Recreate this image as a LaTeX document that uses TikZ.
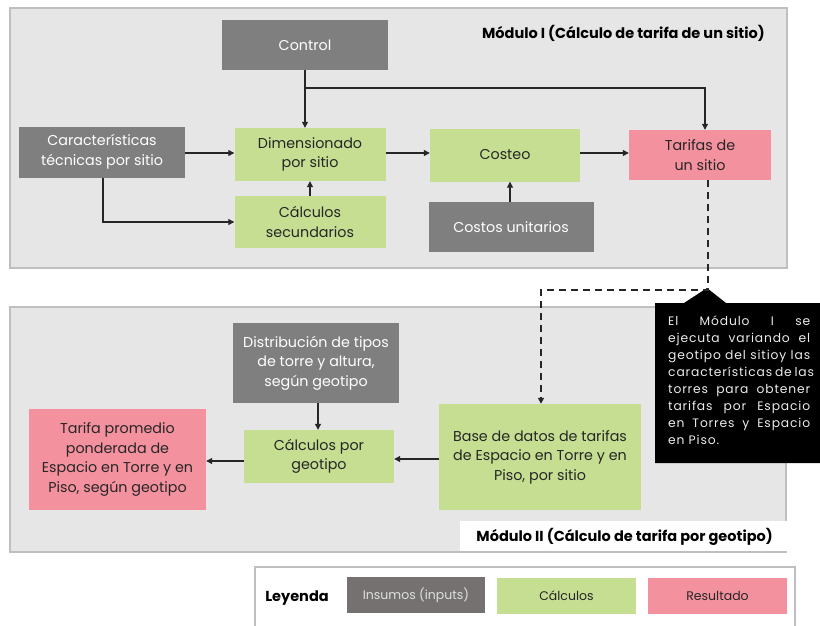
\documentclass[tikz,border=0pt]{standalone}
\usepackage{fontspec}
\setmainfont{Poppins}
\newfontfamily\calloutfont[LetterSpace=7]{Poppins}
\usetikzlibrary{arrows.meta}
\definecolor{modbg}{HTML}{E6E6E6}
\definecolor{modln}{HTML}{BFBFBF}
\definecolor{ins}{HTML}{7F7F7F}
\definecolor{calc}{HTML}{C5DE92}
\definecolor{res}{HTML}{F4919F}
\definecolor{legins}{HTML}{767171}
\definecolor{txt}{HTML}{262626}
\newcommand{\jline}[1]{\makebox[142pt][s]{#1}}
\tikzset{
 boxbase/.style={rectangle, inner sep=0pt, align=center, font=\fontsize{14.3}{19.5}\selectfont},
 inbox/.style={boxbase, fill=ins, text=white},
 calbox/.style={boxbase, fill=calc, text=txt},
 resbox/.style={boxbase, fill=res, text=txt},
 conn/.style={draw=black!85, line width=1.1pt, -{Triangle[length=6pt,width=6pt]}},
 dashconn/.style={conn, dash pattern=on 7pt off 5pt, line width=1.6pt},
 modtitle/.style={font=\bfseries\fontsize{14.5}{16}\selectfont, inner sep=0pt, text=black},
 modbox/.style={fill=modbg, draw=modln, line width=1.5pt},
}
\begin{document}
\begin{tikzpicture}[x=1pt,y=-1pt]
\useasboundingbox (0,0) rectangle (820,625);
\begin{scope}
\clip (0,0) rectangle (820,625);
% Module I
\draw[modbox] (10,8) rectangle (787,268);
\node[modtitle, anchor=east] (t1) at (765,33) {Módulo I (Cálculo de tarifa de un sitio)};
% Module II
\draw[modbox] (10,307) rectangle (786,552);
\fill[white] (460,521) rectangle (787,550.5);
\node[modtitle, anchor=east] (t2) at (773,537) {Módulo II (Cálculo de tarifa por geotipo)};

% Module I nodes
\node[inbox, minimum width=166, minimum height=50] (control) at (305,45) {Control};
\node[inbox, minimum width=166, minimum height=51] (caract) at (102,152) {Características\\técnicas por sitio};
\node[calbox, minimum width=151, minimum height=53] (dimen) at (310,154.5) {Dimensionado\\por sitio};
\node[calbox, minimum width=150, minimum height=53] (costeo) at (505,155) {Costeo};
\node[resbox, minimum width=142, minimum height=50] (tarifas) at (700,155) {Tarifas de\\un sitio};
\node[calbox, minimum width=151, minimum height=52] (calcsec) at (310,222) {Cálculos\\secundarios};
\node[inbox, minimum width=165, minimum height=50] (costos) at (511,227) {Costos unitarios};

% Module II nodes
\node[inbox, minimum width=166, minimum height=80] (distrib) at (316,363) {Distribución de tipos\\de torre y altura,\\según geotipo};
\node[calbox, minimum width=150, minimum height=53] (calcgeo) at (319,456.5) {Cálculos por\\geotipo};
\node[resbox, minimum width=177, minimum height=101] (tarprom) at (117.5,459.5) {Tarifa promedio\\ponderada de\\Espacio en Torre y en\\Piso, según geotipo};
\node[calbox, minimum width=202, minimum height=106] (basedat) at (540,457) {Base de datos de tarifas\\de Espacio en Torre y en\\Piso, por sitio};

% connectors module I
\coordinate (br) at (305,88);
\draw[conn] (control.south) -- (control.south |- dimen.north);
\draw[conn] (br) -| ([xshift=5pt]tarifas.north);
\draw[conn] (caract.east |- 0,153) -- (dimen.west |- 0,153);
\draw[conn] ([xshift=1pt]caract.south) |- (calcsec.west);
\draw[conn] (calcsec.north) -- (dimen.south);
\draw[conn] (dimen.east |- 0,153) -- (costeo.west |- 0,153);
\draw[conn] (costeo.east |- 0,153) -- (tarifas.west |- 0,153);
\draw[conn] ([xshift=-1pt]costos.north) -- ([xshift=-1pt]costos.north |- costeo.south);

% callout
\fill[black] (655,303) -- (684,303) -- (707,288) -- (726,303) -- (830,303) -- (830,463) -- (655,463) -- cycle;
\node[anchor=north west, inner sep=0pt, text=white!92!black, align=left,
      font=\calloutfont\fontsize{12.3}{17}\selectfont] (callout) at (668,316)
  {\jline{El Módulo I se}\\\jline{ejecuta variando el}\\\jline{geotipo del sitioy las}\\\jline{características de las}\\\jline{torres para obtener}\\\jline{tarifas por Espacio}\\\jline{en Torres y Espacio}\\en Piso.};

% dashed connector
\coordinate (dk) at (708,290);
\draw[dashconn] ([xshift=8pt]tarifas.south) -- (dk) -| ([xshift=1pt]basedat.north);

% connectors module II
\draw[conn] ([xshift=2pt]distrib.south) -- ([xshift=-1pt]calcgeo.north);
\draw[conn] (basedat.west |- 0,459) -- (calcgeo.east |- 0,459);
\draw[conn] (calcgeo.west |- 0,461) -- (tarprom.east |- 0,461);

% legend
\draw[draw=modln, line width=1.2pt, fill=white] (255,567) rectangle (795,640);
\node[modtitle] (ley) at (297,598) {Leyenda};
\node[boxbase, fill=legins, text=white!88!black, minimum width=138, minimum height=36, font=\fontsize{12.5}{15}\selectfont] (lins) at (416,595) {Insumos (inputs)};
\node[calbox, minimum width=139, minimum height=36, font=\fontsize{12.5}{15}\selectfont] (lcal) at (566.5,596) {Cálculos};
\node[resbox, minimum width=139, minimum height=36, font=\fontsize{12.5}{15}\selectfont] (lres) at (717.5,596) {Resultado};
\end{scope}
\end{tikzpicture}
\end{document}
